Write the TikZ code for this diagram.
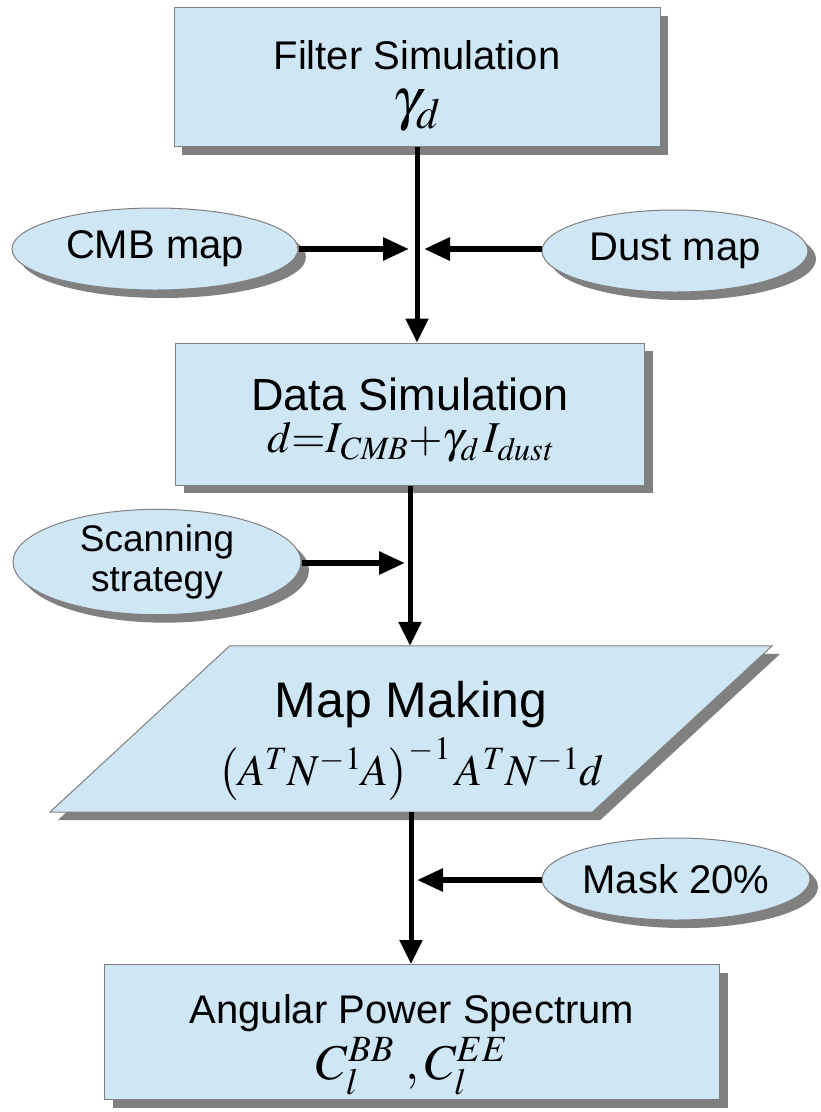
\documentclass[tikz,border=0pt]{standalone}
\usepackage{mathptmx}
\usepackage[no-math]{fontspec}
\setmainfont{Liberation Sans}
\usetikzlibrary{shapes.geometric,shadows,arrows.meta}
\definecolor{boxfill}{HTML}{CFE7F5}
\definecolor{boxline}{HTML}{808080}
\definecolor{shadowgray}{HTML}{808080}
\tikzset{
  stage/.style={rectangle, draw=boxline, fill=boxfill, line width=1pt, align=center, inner sep=0pt,
    drop shadow={shadow xshift=8pt, shadow yshift=-8pt, fill=shadowgray, opacity=1}},
  source/.style={ellipse, draw=boxline, fill=boxfill, line width=1pt, align=center, inner sep=0pt,
    drop shadow={shadow xshift=8pt, shadow yshift=-8pt, fill=shadowgray, opacity=1}},
  flow/.style={line width=5pt, -{Triangle[length=24pt,width=22pt]}},
  feed/.style={line width=6pt, -{Triangle[length=26pt,width=22pt]}},
  big/.style={font=\fontsize{40}{46}\selectfont}
}
\begin{document}
\begin{tikzpicture}[x=1pt, y=-1pt]
\useasboundingbox (0,0) rectangle (820,1112);
% Stage one: the filter
\node[stage, big, minimum width=486pt, minimum height=139pt] (filter) at (417,77)
  {\rule{0pt}{48pt}Filter Simulation\\[3pt] {\fontsize{58}{58}\selectfont$\gamma_d$}};
% the two sky maps that feed it
\node[source, big, minimum width=286pt, minimum height=82pt] (cmb) at (155,249) {CMB map};
\node[source, big, minimum width=266pt, minimum height=82pt] (dust) at (675,251) {Dust map};
\coordinate (joinL) at (409,249);
\coordinate (joinR) at (424,249);
% Stage two: the data
\node[stage, minimum width=469pt, minimum height=142pt] (data) at (410,414)
  {\fontsize{45}{50}\selectfont\rule{0pt}{45pt}Data Simulation\\[11pt]
   {\fontsize{44}{50}\selectfont$d{=}I_{\mathit{CMB}}{+}\gamma_d\,I_{\mathit{dust}}$}};
\node[source, font=\fontsize{37}{40}\selectfont, minimum width=288pt, minimum height=94pt] (scan) at (157,562)
  {Scanning\\ strategy};
\coordinate (joinS) at (405,563);
% Stage three: map making, a slanted box
\node[inner sep=0pt, minimum width=542pt, minimum height=166pt, align=center] (map) at (411,729)
  {};
\fill[shadowgray] ([shift={(98pt,-8pt)}]map.north west) -- ([shift={(98pt,-8pt)}]map.north east)
  -- ([shift={(-82pt,-8pt)}]map.south east) -- ([shift={(-82pt,-8pt)}]map.south west) -- cycle;
\filldraw[fill=boxfill, draw=boxline, line width=1pt] ([xshift=90pt]map.north west) -- ([xshift=90pt]map.north east)
  -- ([xshift=-90pt]map.south east) -- ([xshift=-90pt]map.south west) -- cycle;
\node[align=center, inner sep=0pt] (maptext) at ([yshift=-12pt]map.center)
  {\fontsize{50}{54}\selectfont Map Making\\[9pt]
   {\fontsize{44}{48}\selectfont$\left(A^T N^{-1} A\right)^{-1} A^T N^{-1} d$}};
\node[source, big, minimum width=268pt, minimum height=82pt] (mask) at (676,879) {Mask 20\%};
\coordinate (joinM) at (417,880);
% Stage four: the spectra
\node[stage, big, minimum width=615pt, minimum height=135pt] (aps) at (412,1032)
  {\rule{0pt}{55pt}Angular Power Spectrum\\[4pt] {\fontsize{50}{52}\selectfont$C_l^{BB}\;,C_l^{EE}$}};
% the flow
\draw[flow] (filter.south) -- (filter.south |- data.north);
\draw[feed] (cmb.east |- joinL) -- (joinL);
\draw[feed] (dust.west |- joinR) -- (joinR);
\draw[flow] (data.south) -- (data.south |- map.north);
\draw[feed] (scan.east |- joinS) -- (joinS);
\draw[flow] (map.south) -- (map.south |- aps.north);
\draw[feed] (mask.west |- joinM) -- (joinM);
\end{tikzpicture}
\end{document}
